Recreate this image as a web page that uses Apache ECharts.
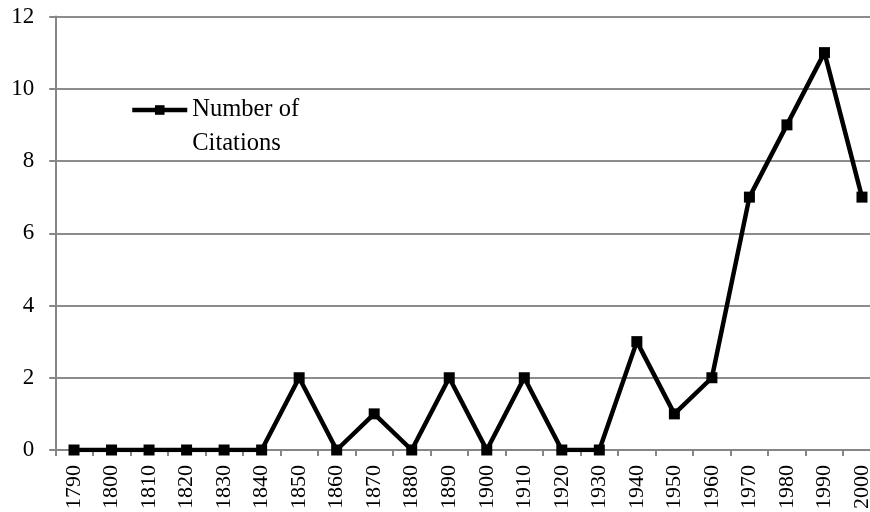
<!DOCTYPE html>
<html><head><meta charset="utf-8">
<script src="https://cdn.jsdelivr.net/npm/echarts@6/dist/echarts.min.js"></script>
<style>html,body{margin:0;padding:0;background:#fff}#c{width:870px;height:512px}</style>
</head><body><div id="c"></div>
<script>
const categories = ['1790','1800','1810','1820','1830','1840','1850','1860','1870','1880','1890','1900','1910','1920','1930','1940','1950','1960','1970','1980','1990','2000'];
const citations = [0,0,0,0,0,0,2,0,1,0,2,0,2,0,0,3,1,2,7,9,11,7];
const seriesName = 'Number of Citations';
const chart = echarts.init(document.getElementById('c'));
const font = '"Liberation Serif","Times New Roman",serif';
chart.setOption({
  animation: false,
  textStyle: {fontFamily: font},
  grid: {left: 55.25, width: 825.5, top: 16.5, bottom: 62, containLabel: false, outerBoundsMode: 'none'},
  legend: {
    left: 130, top: 59, padding: 0, itemWidth: 55, itemHeight: 12,
    formatter: () => '\u00a0\nNumber of\nCitations',
    textStyle: {fontFamily: font, fontSize: 24.5, color: '#000', lineHeight: 34},
    lineStyle: {width: 4.5, color: '#000'},
    itemStyle: {color: '#000'},
    itemGap: 0
  },
  xAxis: {
    type: 'category', data: categories, boundaryGap: true,
    axisLine: {lineStyle: {color: '#868686', width: 2}},
    axisTick: {show: true, length: 6, inside: false, lineStyle: {color: '#868686', width: 2}},
    axisLabel: {rotate: 90, interval: 0, fontSize: 22, color: '#000', fontFamily: font, margin: 15}
  },
  yAxis: {
    type: 'value', min: 0, max: 12, interval: 2,
    axisLine: {show: true, lineStyle: {color: '#868686', width: 2}},
    axisTick: {show: true, length: 6, lineStyle: {color: '#868686', width: 2}},
    splitLine: {lineStyle: {color: '#8c8c8c', width: 2}},
    axisLabel: {fontSize: 23, color: '#000', fontFamily: font, margin: 21}
  },
  series: [{
    name: seriesName, type: 'line', data: citations,
    symbol: 'rect', symbolSize: 11, showSymbol: true,
    lineStyle: {color: '#000', width: 4.5},
    itemStyle: {color: '#000'}
  }]
});
</script></body></html>
